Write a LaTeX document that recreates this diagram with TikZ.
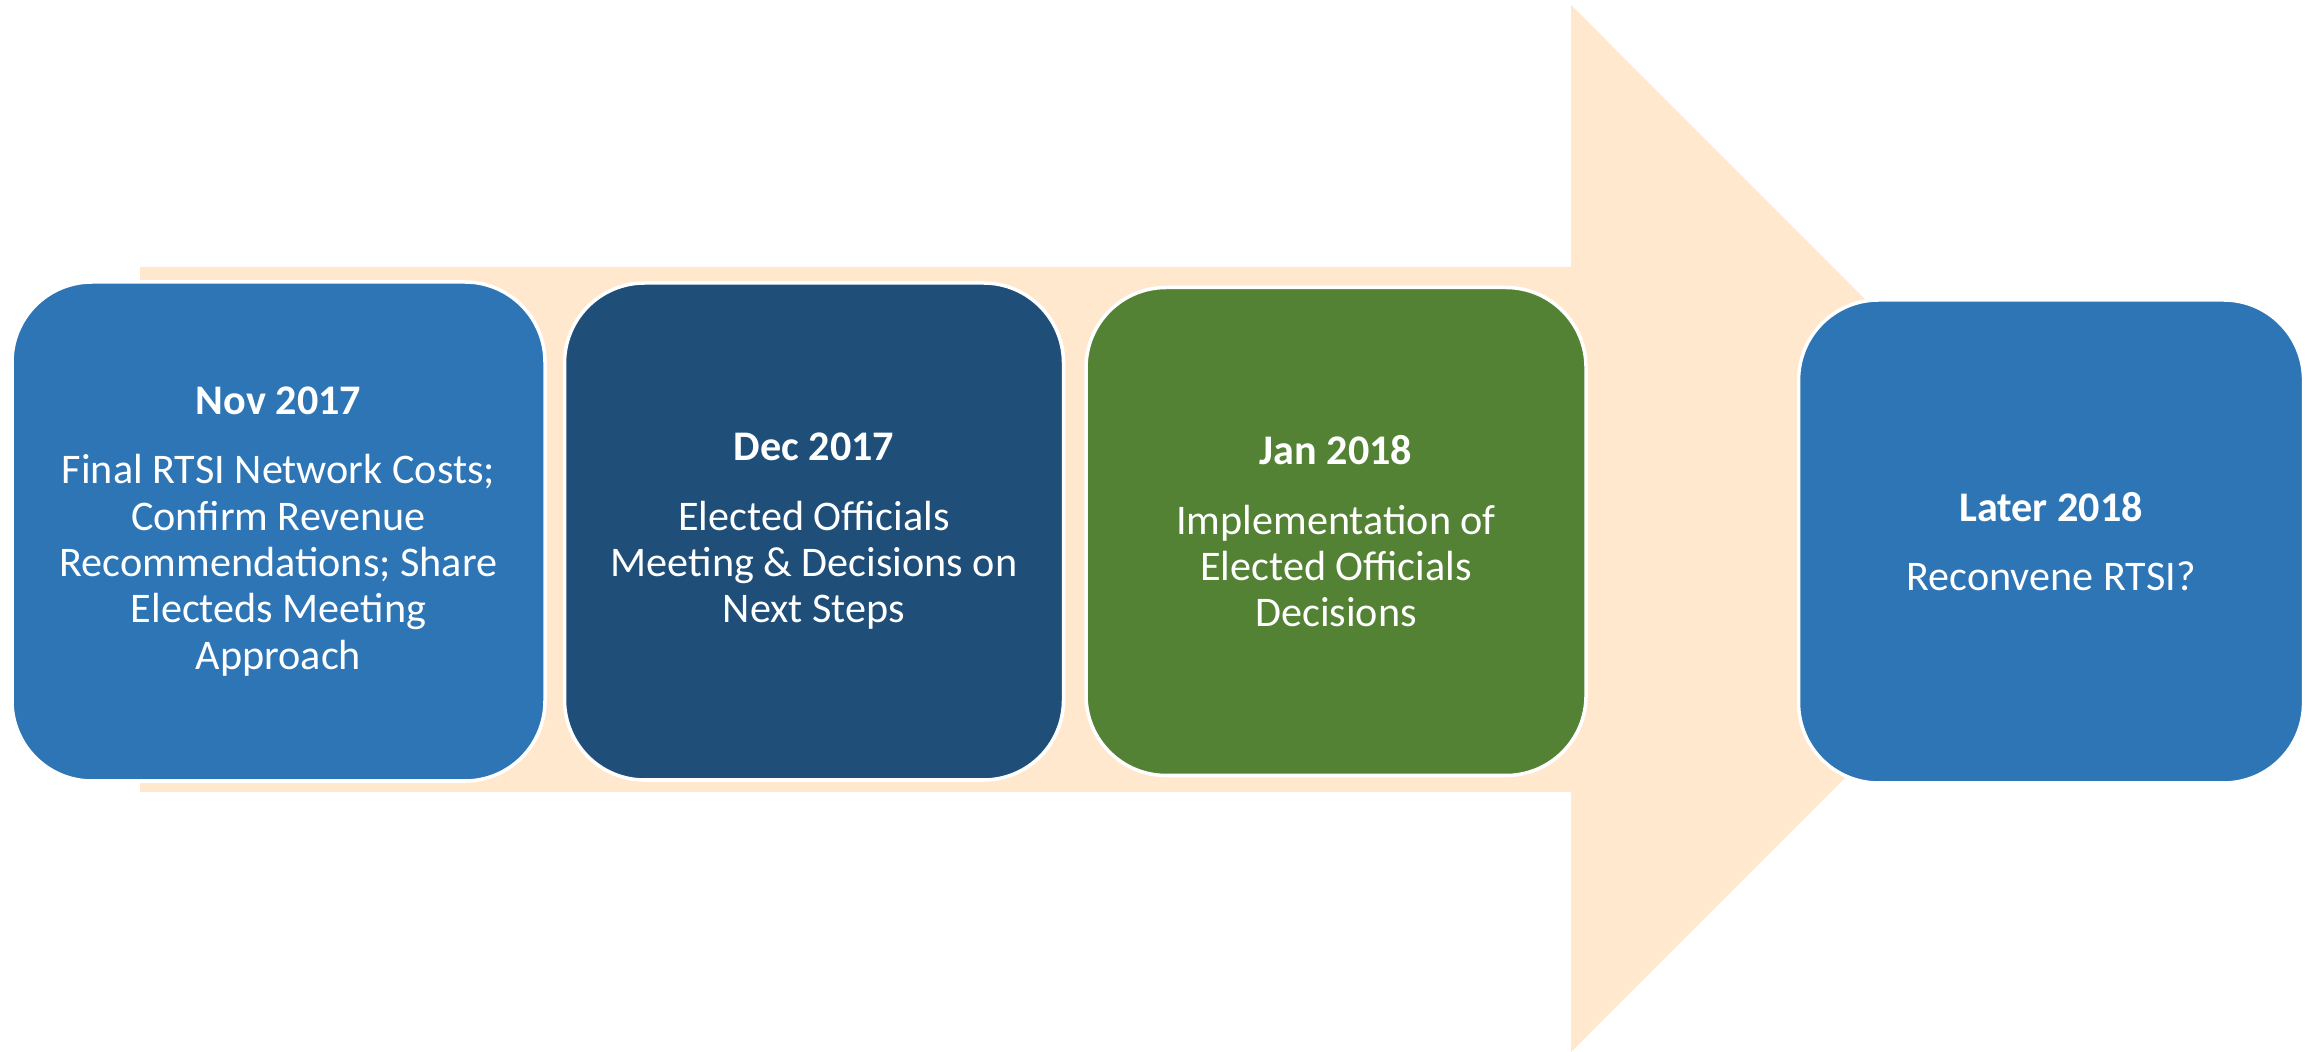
\documentclass[tikz,border=0pt]{standalone}
\usepackage{fontspec}
\setmainfont{Carlito}
\usetikzlibrary{positioning}
\usepackage{xcolor}
\definecolor{peach}{HTML}{FFE8CE}
\definecolor{stepblue}{HTML}{2E75B6}
\definecolor{stepnavy}{HTML}{1F4E79}
\definecolor{stepgreen}{HTML}{548235}

\begin{document}
\begin{tikzpicture}[
    stage/.style={rectangle, rounded corners=0.8cm, draw=white, line width=1pt, text=white, align=center, inner sep=0pt, font=\fontsize{12}{13.2}\selectfont}
]
\useasboundingbox (0,0) rectangle (23.15,-10.52);

% big arrow behind the steps
\fill[peach] (1.40,-2.67) -- (15.71,-2.67) -- (15.71,-0.05) -- (20.94,-5.285)
    -- (15.71,-10.52) -- (15.71,-7.92) -- (1.40,-7.92) -- cycle;

\node[stage, fill=stepblue, minimum width=5.33cm, minimum height=4.99cm] (nov) at (2.785,-5.315)
    {\textbf{Nov 2017}\\[6.5pt]Final RTSI Network Costs;\\Confirm Revenue\\Recommendations; Share\\Electeds Meeting\\Approach};
\node[stage, fill=stepnavy, minimum width=4.99cm, minimum height=4.97cm, right=0.16cm of nov] (dec)
    {\textbf{Dec 2017}\\[6.5pt]Elected Officials\\Meeting \& Decisions on\\Next Steps};
\node[stage, fill=stepgreen, minimum width=5.0cm, minimum height=4.88cm, right=0.19cm of dec] (jan)
    {\textbf{Jan 2018}\\[6.5pt]Implementation of\\Elected Officials\\Decisions};
\node[stage, fill=stepblue, minimum width=5.05cm, minimum height=4.83cm, right=2.09cm of jan, yshift=-0.1cm] (later)
    {\textbf{Later 2018}\\[6.5pt]Reconvene RTSI?};

\end{tikzpicture}
\end{document}
